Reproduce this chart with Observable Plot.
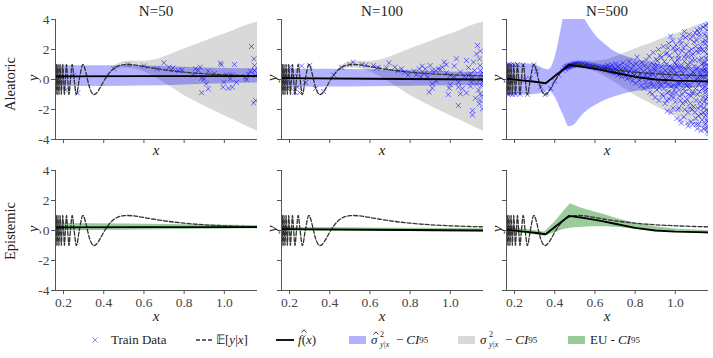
<!DOCTYPE html>
<html><head><meta charset="utf-8">
<script src="https://cdn.jsdelivr.net/npm/d3@7"></script>
<script src="https://cdn.jsdelivr.net/npm/@observablehq/plot@0.6"></script>
<style>
body{margin:0;background:#fff;}
#root{position:relative;width:713px;height:358px;overflow:hidden;font-family:"Liberation Serif","Times New Roman",serif;color:#222;}
#root div, #root span, #root sub{font-family:"Liberation Serif","Times New Roman",serif;}
#root svg text{font-family:"Liberation Serif","Times New Roman",serif !important;}
.lab{position:absolute;white-space:nowrap;transform:translate(-50%,-50%);line-height:1;}
.rot{transform:translate(-50%,-50%) rotate(-90deg);}
.it{font-style:italic;}
.li{position:absolute;height:20px;display:flex;align-items:center;font-size:13px;white-space:nowrap;}
.sw{display:inline-block;width:17px;height:8px;}
.stack{display:inline-flex;flex-direction:column;font-size:8px;line-height:10px;}
.hat{position:relative;display:inline-block;}
.hat svg{position:absolute;left:2px;top:-1px;}
</style></head><body><div id="root"></div><script>
// ---------- categories / ticks ----------
const columns = ["N=50", "N=100", "N=500"];
const rows = ["Aleatoric", "Epistemic"];
const xDomain = [0.16, 1.165];
const yDomain = [-4, 4];
const xTicks = [0.2, 0.4, 0.6, 0.8, 1.0];
const yTicks = [-4, -2, 0, 2, 4];

// ---------- E[y|x] (true mean) ----------
const meanX = [0.16,0.1605,0.1622,0.1641,0.1660,0.1680,0.1702,0.1724,0.1748,0.1773,0.1800,0.1827,0.1858,0.1890,0.1925,0.1962,0.2002,0.2045,0.2093,0.2146,0.2205,0.2270,0.2344,0.2430,0.2527,0.2640,0.2783,0.2960,0.30,0.31,0.32,0.33,0.34,0.352,0.36,0.38,0.40,0.42,0.44,0.46,0.48,0.50,0.517,0.55,0.6,0.65,0.7,0.75,0.8,0.85,0.9,0.95,1.0,1.05,1.1,1.165];
const meanY = [-0.91,-1,0,1,0,-1,0,1,0,-1,0,1,0,-1,0,1,0,-1,0,1,0,-1,0,1,0,-1,0,1,0.955,0.541,-0.04,-0.548,-0.871,-1,-0.957,-0.592,-0.113,0.308,0.619,0.821,0.935,0.988,1.0,0.97,0.866,0.751,0.646,0.56,0.488,0.43,0.383,0.345,0.313,0.287,0.266,0.243];

// ---------- f-hat(x) per N ----------
const fhat50X = [0.16, 0.6, 1.165];
const fhat50Y = [0.21, 0.22, 0.23];
const fhat100X = [0.16, 0.6, 1.165];
const fhat100Y = [0.09, 0.05, 0.0];
const fhat500X = [0.16,0.25,0.30,0.355,0.47,0.55,0.63,0.70,0.80,0.90,1.0,1.165];
const fhat500Y = [0.05,-0.08,-0.15,-0.25,0.97,0.82,0.64,0.45,0.17,0.0,-0.08,-0.13];

// ---------- true aleatoric CI (gray) ----------
const grayX  = [0.45,0.5,0.55,0.6,0.65,0.7,0.75,0.8,0.85,0.9,0.95,1.0,1.05,1.1,1.165];
const grayHi = [0.87,1.19,1.22,1.22,1.30,1.50,1.76,2.04,2.28,2.53,2.80,3.03,3.29,3.57,3.84];
const grayLo = [0.57,0.79,0.72,0.52,0.20,-0.20,-0.64,-1.06,-1.42,-1.77,-2.10,-2.41,-2.71,-3.05,-3.45];

// ---------- estimated aleatoric CI (blue) ----------
const blue50X  = [0.16,0.4,0.6,0.8,1.0,1.165];
const blue50Hi = [0.92,0.92,0.9,0.82,0.74,0.72];
const blue50Lo = [-0.47,-0.46,-0.44,-0.36,-0.28,-0.24];
const blue100X  = [0.16,0.4,0.6,0.8,1.0,1.165];
const blue100Hi = [0.68,0.68,0.65,0.58,0.5,0.46];
const blue100Lo = [-0.52,-0.5,-0.48,-0.45,-0.42,-0.4];
const blue500X  = [0.16,0.25,0.30,0.34,0.37,0.39,0.41,0.43,0.45,0.47,0.50,0.53,0.56,0.60,0.65,0.70,0.75,0.80,0.90,1.00,1.10,1.165];
const blue500Hi = [1.05,1.05,1.0,0.75,0.65,1.0,1.9,3.2,4.5,5.5,5.5,4.5,3.8,3.0,2.35,1.85,1.55,1.35,1.05,0.88,0.76,0.72];
const blue500Lo = [-1.05,-1.05,-1.0,-0.9,-0.75,-0.95,-1.4,-2.0,-2.6,-3.15,-3.0,-2.5,-2.1,-1.75,-1.4,-1.15,-0.95,-0.8,-0.65,-0.58,-0.53,-0.5];

// ---------- epistemic CI (green) ----------
const green50X  = [0.16,0.5,0.8,1.165];
const green50Hi = [0.47,0.43,0.38,0.34];
const green50Lo = [-0.03,0.01,0.07,0.12];
const green100X  = [0.16,0.6,1.165];
const green100Hi = [0.22,0.17,0.11];
const green100Lo = [-0.04,-0.05,-0.1];
const green500X  = [0.16,0.25,0.35,0.40,0.44,0.478,0.52,0.58,0.65,0.72,0.8,0.9,1.0,1.165];
const green500Hi = [0.2,0.08,-0.1,0.55,1.2,1.78,1.55,1.3,1.05,0.75,0.5,0.25,0.1,-0.02];
const green500Lo = [-0.08,-0.2,-0.38,-0.15,0.05,0.15,0.2,0.25,0.25,0.2,0.08,-0.05,-0.12,-0.23];

// ---------- training data ----------
const train50 = [[0.18,0.6],[0.21,-0.7],[0.25,0.3],[0.27,-0.9],[0.45,0.72],[0.52,1.0],[0.6,0.9],[0.666,0.71],[0.699,1.11],[0.724,0.82],[0.744,0.76],[0.773,0.6],[0.79,0.64],[0.846,0.29],[0.856,0.71],[0.87,0.6],[0.88,0.82],[0.887,0.09],[0.887,-0.88],[0.9,0.05],[0.91,-0.29],[0.92,0.55],[0.92,-0.62],[0.981,1.09],[0.985,0.98],[0.998,-0.18],[0.993,-0.51],[1.01,0.31],[1.02,-0.58],[1.03,0.04],[1.04,0.31],[1.04,-0.51],[1.05,1.0],[1.105,0.16],[1.11,0.0],[1.13,0.55],[1.135,2.2],[1.147,1.38],[1.15,0.93],[1.15,0.6],[1.155,0.27],[1.145,-1.56],[1.155,-1.4],[1.06,-0.2],[0.95,0.4],[1.12,0.35]];
const train100 = [[0.17,0.5],[0.19,-0.6],[0.2,0.8],[0.22,0.2],[0.226,-0.84],[0.24,-0.5],[0.25,-0.87],[0.26,0.9],[0.28,-0.2],[0.3,0.95],[0.33,-0.6],[0.37,-0.8],[0.42,0.3],[0.46,0.8],[0.5,1.0],[0.517,1.16],[0.56,1.0],[0.58,0.95],[0.617,0.93],[0.633,0.76],[0.64,0.8],[0.682,0.78],[0.695,1.11],[0.724,0.82],[0.74,0.6],[0.757,0.71],[0.773,0.49],[0.79,0.3],[0.82,0.55],[0.83,0.32],[0.846,0.71],[0.853,0.16],[0.86,0.89],[0.87,0.4],[0.876,0.71],[0.887,0.16],[0.895,-0.84],[0.9,0.93],[0.91,-0.29],[0.91,-0.58],[0.91,0.6],[0.925,0.6],[0.93,-0.1],[0.94,0.71],[0.95,0.67],[0.96,0.82],[0.97,1.16],[0.98,0.98],[0.98,0.45],[0.99,-1.0],[0.995,-0.58],[1.0,0.27],[1.0,-0.35],[1.02,0.16],[1.02,0.9],[1.03,1.38],[1.04,-0.18],[1.04,-0.51],[1.04,-1.73],[1.05,-0.95],[1.05,0.5],[1.06,-0.6],[1.07,0.2],[1.08,1.27],[1.08,-0.9],[1.09,0.27],[1.09,0.8],[1.1,0.38],[1.1,-0.45],[1.105,-0.18],[1.11,0.16],[1.11,-2.07],[1.11,-2.36],[1.115,1.16],[1.12,0.6],[1.125,-1.25],[1.13,-0.29],[1.13,1.7],[1.135,2.27],[1.14,-0.7],[1.145,1.38],[1.145,-1.62],[1.148,0.93],[1.148,-1.4],[1.15,0.6],[1.15,-0.95],[1.15,0.04],[1.15,1.9],[1.155,-0.4],[1.155,-1.1],[1.16,-1.96],[1.16,0.45],[1.16,-0.15]];
const train500 = [[0.1641,0.95],[0.168,-0.98],[0.1724,1.0],[0.1773,-0.95],[0.1827,0.97],[0.189,-1.0],[0.1962,0.98],[0.2045,-0.97],[0.2146,1.0],[0.227,-0.98],[0.243,0.96],[0.264,-1.0],[0.296,0.98],[0.278,0.05],[0.2527,-0.02],[0.31,0.55],[0.33,-0.5],[0.352,-1.0],[0.36,-0.92],[0.38,-0.6],[0.4,-0.1],[0.42,0.3],[0.44,0.6],
[0.45,0.70],[0.452,0.78],[0.455,0.74],[0.46,0.85],[0.462,0.80],[0.465,0.88],[0.468,0.83],[0.47,0.92],[0.473,0.86],[0.476,0.95],[0.48,0.90],[0.483,0.98],[0.486,0.93],[0.49,1.0],[0.493,0.95],[0.497,1.04],[0.50,0.97],[0.503,1.05],[0.507,0.98],[0.51,1.08],[0.515,0.96],[0.52,1.03],[0.525,1.1],[0.53,0.95],[0.535,1.02],[0.54,1.07],[0.545,0.93],[0.55,1.0],[0.555,0.94],[0.56,1.03],[0.565,0.9],[0.57,0.97],[0.575,0.88],[0.58,0.95],[0.585,0.86],[0.59,0.93],[0.595,0.84],[0.60,0.9],[0.605,0.8],[0.61,0.88],[0.615,0.78],[0.62,0.86],[0.63,0.74],[0.635,0.83],[0.64,0.7],[0.645,0.82],[0.65,0.68],
[0.652,0.85],[0.655,0.62],[0.66,0.78],[0.663,0.95],[0.667,0.55],[0.67,0.72],[0.675,0.88],[0.678,0.5],[0.68,0.66],[0.685,0.98],[0.69,0.6],[0.692,0.42],[0.695,0.78],[0.7,0.7],[0.703,1.05],[0.706,0.45],[0.71,0.62],[0.713,0.85],[0.716,0.3],[0.72,0.58],[0.723,0.95],[0.727,0.4],[0.73,0.7],[0.733,0.2],[0.737,0.55],[0.74,1.1],[0.744,0.48],[0.748,0.78],[0.752,0.25],[0.755,0.62],[0.76,0.05],[0.763,0.9],[0.767,0.42],[0.77,1.2],[0.774,0.55],[0.778,0.15],[0.78,0.72],[0.785,-0.1],[0.788,0.4],[0.79,0.95],[0.795,0.3],[0.8,0.6],[0.803,-0.25],[0.806,1.05],[0.81,1.49],[0.812,0.2],[0.815,0.5],[0.82,-0.05],[0.823,0.8],[0.826,0.35],[0.83,-0.4],[0.833,1.15],[0.836,0.1],[0.84,0.55],[0.843,-0.6],[0.846,0.9],[0.85,0.25],[0.853,-0.2],[0.856,1.3],[0.86,0.45],
[0.862,-0.5],[0.865,0.8],[0.868,0.1],[0.87,1.55],[0.873,-0.85],[0.876,0.55],[0.879,-0.15],[0.882,1.1],[0.885,-0.96],[0.888,0.35],[0.89,1.8],[0.893,-0.4],[0.896,0.7],[0.899,-1.2],[0.902,0.2],[0.905,1.35],[0.908,-0.7],[0.91,0.95],[0.913,-0.05],[0.916,2.0],[0.919,-1.4],[0.922,0.5],[0.925,1.6],[0.928,-0.3],[0.931,0.85],[0.934,-1.0],[0.937,0.25],[0.94,2.2],[0.943,-0.6],[0.946,1.2],[0.949,-1.6],[0.952,0.6],[0.955,-0.15],[0.958,1.75],[0.961,-0.9],[0.964,0.4],[0.967,2.4],[0.97,-1.3],[0.973,0.9],[0.976,2.89],[0.979,-0.45],[0.98,-1.1],[0.982,1.4],[0.985,0.1],[0.988,-1.9],[0.99,2.1],[0.993,0.65],[0.996,-0.7],[0.998,1.1],[1.0,-1.5],[0.91,1.25],[0.92,-0.55],[0.935,0.45],[0.945,-0.2],[0.955,1.0],[0.965,-0.35],[0.975,0.55],[0.985,-0.9],[0.995,0.35],[0.875,0.3],[0.895,0.95],[0.915,-0.25],[0.93,1.45],[0.95,0.05],[0.96,-2.1],[0.97,0.2],[0.99,-0.4],[0.88,-0.35],[0.9,0.6],[0.94,-1.1],
[0.951,1.7],[0.957,-1.4],[0.963,2.1],[0.968,-0.8],[0.972,1.6],[0.978,-2.2],[0.983,0.8],[0.987,2.6],[0.992,-1.2],[0.997,1.9],
[1.003,2.3],[1.006,-0.5],[1.009,0.9],[1.012,-2.0],[1.015,1.6],[1.018,0.2],[1.021,-1.1],[1.024,2.6],[1.027,0.6],[1.03,-0.2],[1.033,1.9],[1.036,-1.6],[1.039,0.4],[1.042,-2.5],[1.045,1.2],[1.048,-0.8],[1.051,2.8],[1.054,0.1],[1.057,-1.3],[1.06,1.5],[1.063,-2.2],[1.066,0.8],[1.069,3.0],[1.072,-0.4],[1.075,1.1],[1.078,-2.8],[1.081,2.0],[1.084,-0.9],[1.087,0.5],[1.09,-1.8],[1.093,2.5],[1.096,-0.1],[1.099,1.3],[1.102,-2.6],[1.105,0.7],[1.108,3.3],[1.109,-3.29],[1.111,-1.0],[1.114,1.8],[1.117,-0.3],[1.12,2.9],[1.123,-1.5],[1.125,2.2],[1.126,0.3],[1.129,-2.3],[1.132,1.4],[1.135,-0.6],[1.138,3.5],[1.141,-1.9],[1.144,0.9],[1.147,-3.0],[1.15,2.4],[1.153,-0.2],[1.156,1.7],[1.159,-1.2],[1.162,3.7],[1.165,-3.62],
[1.14,0.2],[1.145,1.1],[1.148,-0.9],[1.15,-2.4],[1.152,0.6],[1.155,2.9],[1.157,-1.6],[1.16,0.0],[1.16,1.3],[1.161,-0.6],[1.162,2.0],[1.163,-2.1],[1.164,0.9],[1.164,-3.1],[1.165,1.6],[1.165,-1.0],[1.158,3.3],[1.156,-2.7],[1.154,0.4],[1.152,-1.3],[1.149,2.6],[1.146,-0.5],[1.143,1.9],[1.14,-2.2],
[1.005,0.4],[1.01,1.3],[1.02,-0.7],[1.025,-1.4],[1.035,0.9],[1.04,2.1],[1.05,-0.3],[1.055,1.7],[1.065,-1.0],[1.07,0.2],[1.08,1.6],[1.085,-2.0],[1.095,0.9],[1.1,-0.6],[1.105,1.9],[1.115,-2.4],[1.12,0.5],[1.13,-0.1],[1.135,2.5],[1.128,-3.4],[1.118,3.1],[1.09,2.9],[1.075,-1.6],[1.06,-2.9],[1.045,3.2],[1.03,-2.9],[1.015,-0.2],[1.11,0.1],[1.13,1.0],[1.07,-0.6],
[1.001,-0.9],[1.004,1.0],[1.008,-2.6],[1.011,2.0],[1.014,-0.3],[1.017,1.4],[1.019,-1.9],[1.023,0.9],[1.026,-2.7],[1.029,2.4],[1.032,0.0],[1.034,-1.0],[1.037,2.9],[1.041,-0.6],[1.044,1.5],[1.047,-2.0],[1.049,0.7],[1.052,-1.5],[1.056,2.3],[1.059,-0.4],[1.062,1.0],[1.064,-3.1],[1.067,1.9],[1.071,-1.9],[1.074,2.7],[1.077,0.3],[1.079,-1.1],[1.083,1.3],[1.086,-3.0],[1.088,1.7],[1.091,-0.9],[1.094,0.4],[1.097,-2.2],[1.101,2.2],[1.103,-1.4],[1.106,0.0],[1.107,2.6],[1.112,-1.9],[1.113,0.8],[1.116,-3.0],[1.119,1.3],[1.121,-0.8],[1.124,3.4],[1.127,-1.8],[1.131,0.2],[1.133,-2.7],[1.134,2.0],[1.137,-1.2],[1.139,1.1],[1.142,-3.3],[1.146,3.0],[1.151,-0.7],[1.153,1.4],[1.157,-2.0],[1.159,2.2],[1.161,-2.8],[1.163,0.4],[1.164,2.7],[1.165,-2.3],[1.162,-0.2],[1.16,-3.5],[1.158,1.0],[1.155,-3.3],[1.151,3.6],[1.147,0.7],[1.144,-1.5],[1.136,0.6],[1.122,2.0],[1.104,-3.0],[1.098,3.1]];

// ---------- tables built from arrays ----------
const pts = (xs, ys) => xs.map((x, i) => ({x, y: ys[i]}));
const band = (xs, lo, hi) => xs.map((x, i) => ({x, lo: lo[i], hi: hi[i]}));
const meanData = pts(meanX, meanY);
const fhatData = [pts(fhat50X, fhat50Y), pts(fhat100X, fhat100Y), pts(fhat500X, fhat500Y)];
const grayData = band(grayX, grayLo, grayHi);
const blueData = [band(blue50X, blue50Lo, blue50Hi), band(blue100X, blue100Lo, blue100Hi), band(blue500X, blue500Lo, blue500Hi)];
const greenData = [band(green50X, green50Lo, green50Hi), band(green100X, green100Lo, green100Hi), band(green500X, green500Lo, green500Hi)];
const trainData = [train50, train100, train500].map(a => a.map(([x, y]) => ({x, y})));

// ---------- layout ----------
const root = document.getElementById("root");
const colLeft = [55, 281, 506];
const rowTop = [19, 170];
const frameW = 202, frameH = 120;
const mL = 40, mR = 6, mT = 6, mB = 30;
const FONT = "'Liberation Serif','Times New Roman',serif";

function addLabel(html, x, y, cls, size) {
  const d = document.createElement("div");
  d.className = "lab " + (cls || "");
  d.style.left = x + "px"; d.style.top = y + "px";
  d.style.fontSize = size + "px";
  d.innerHTML = html;
  root.appendChild(d);
}

for (let r = 0; r < 2; r++) {
  for (let c = 0; c < 3; c++) {
    const marks = [];
    if (r === 0) {
      marks.push(Plot.areaY(grayData, {x: "x", y1: "lo", y2: "hi", fill: "#808080", fillOpacity: 0.3, curve: "monotone-x", clip: true}));
      marks.push(Plot.areaY(blueData[c], {x: "x", y1: "lo", y2: "hi", fill: "blue", fillOpacity: 0.3, curve: "monotone-x", clip: true}));
      marks.push(Plot.dot(trainData[c], {x: "x", y: "y", symbol: "times", r: 2.4, stroke: "blue", strokeOpacity: 0.55, strokeWidth: 1, clip: true}));
    } else {
      marks.push(Plot.areaY(greenData[c], {x: "x", y1: "lo", y2: "hi", fill: "green", fillOpacity: 0.4, curve: "linear", clip: true}));
    }
    marks.push(Plot.line(meanData, {x: "x", y: "y", stroke: "#333", strokeWidth: 1.3, strokeDasharray: "4,2", curve: "monotone-x", clip: true}));
    marks.push(Plot.line(fhatData[c], {x: "x", y: "y", stroke: "black", strokeWidth: 1.8, clip: true}));
    marks.push(Plot.axisX({ticks: xTicks, tickSize: 4, tickPadding: 3, stroke: "#555", fill: "#444", fontFamily: FONT,
      tickFormat: r === 1 ? d3.format(".1f") : () => "", label: null}));
    marks.push(Plot.axisY({ticks: yTicks, tickSize: 4, tickPadding: 2, stroke: "#555", fill: "#444", fontFamily: FONT,
      tickFormat: c === 0 ? (d => String(d)) : () => "", label: null}));
    marks.push(Plot.ruleX([xDomain[0]], {stroke: "#555", strokeWidth: 1}));
    marks.push(Plot.ruleY([yDomain[0]], {stroke: "#555", strokeWidth: 1}));
    const svg = Plot.plot({
      width: mL + frameW + mR, height: mT + frameH + mB,
      marginLeft: mL, marginRight: mR, marginTop: mT, marginBottom: mB,
      x: {domain: xDomain}, y: {domain: yDomain},
      marks
    });
    svg.style.position = "absolute";
    svg.style.left = (colLeft[c] - mL) + "px";
    svg.style.top = (rowTop[r] - mT) + "px";
    svg.style.background = "transparent";
    svg.style.overflow = "visible";
    svg.style.fontFamily = FONT;
    svg.style.fontSize = "13.5px";
    root.appendChild(svg);

    // per-panel axis labels
    addLabel("x", colLeft[c] + frameW / 2, r === 0 ? 150 : 316, "it", 15);
    addLabel("y", colLeft[c] - (c === 0 ? 22 : 9), rowTop[r] + 59, "it rot", 15);
  }
}
columns.forEach((t, c) => addLabel(t, colLeft[c] + frameW / 2, 11, "", 15));
addLabel(rows[0], 10, 84, "rot", 14.5);
addLabel(rows[1], 10, 231, "rot", 14.5);

// ---------- legend ----------
const legendY = 330;
function legendItem(left, html) {
  const d = document.createElement("div");
  d.className = "li";
  d.style.left = left + "px"; d.style.top = legendY + "px";
  d.innerHTML = html;
  root.appendChild(d);
}
const hatSvg = '<svg width="6" height="4"><path d="M0.6,3.5L3,0.8L5.4,3.5" fill="none" stroke="#222" stroke-width="0.9"/></svg>';
legendItem(92, '<svg width="6" height="6"><path d="M0.5,0.5L5.5,5.5M5.5,0.5L0.5,5.5" stroke="blue" stroke-opacity="0.45" stroke-width="1"/></svg>');
legendItem(111, 'Train Data');
legendItem(196, '<svg width="18" height="4"><line x1="0" y1="2" x2="18" y2="2" stroke="#333" stroke-width="1.3" stroke-dasharray="4,2"/></svg>');
legendItem(216, '<span>𝔼[<span class="it">y</span>|<span class="it">x</span>]</span>');
legendItem(276, '<svg width="18" height="4"><line x1="0" y1="2" x2="18" y2="2" stroke="black" stroke-width="1.8"/></svg>');
legendItem(298, '<span><span class="hat"><span class="it">f</span>' + hatSvg.replace('<svg', '<svg style="left:3px;top:-3px"') + '</span>(<span class="it">x</span>)</span>');
legendItem(349, '<span class="sw" style="background:rgba(0,0,255,0.3)"></span>');
legendItem(371, '<span class="hat"><span class="it">σ</span>' + hatSvg + '</span>');
legendItem(380, '<span class="stack"><span>2</span><span class="it">y|x</span></span>');
legendItem(396, '− <span class="it" style="margin-left:3px">CI</span><sub style="font-size:9px">95</sub>');
legendItem(458, '<span class="sw" style="background:rgba(128,128,128,0.3)"></span>');
legendItem(480, '<span class="it">σ</span>');
legendItem(489, '<span class="stack"><span>2</span><span class="it">y|x</span></span>');
legendItem(505, '− <span class="it" style="margin-left:3px">CI</span><sub style="font-size:9px">95</sub>');
legendItem(568, '<span class="sw" style="background:rgba(0,128,0,0.4)"></span>');
legendItem(590, 'EU - <span class="it" style="margin-left:3px">CI</span><sub style="font-size:9px">95</sub>');
</script></body></html>
